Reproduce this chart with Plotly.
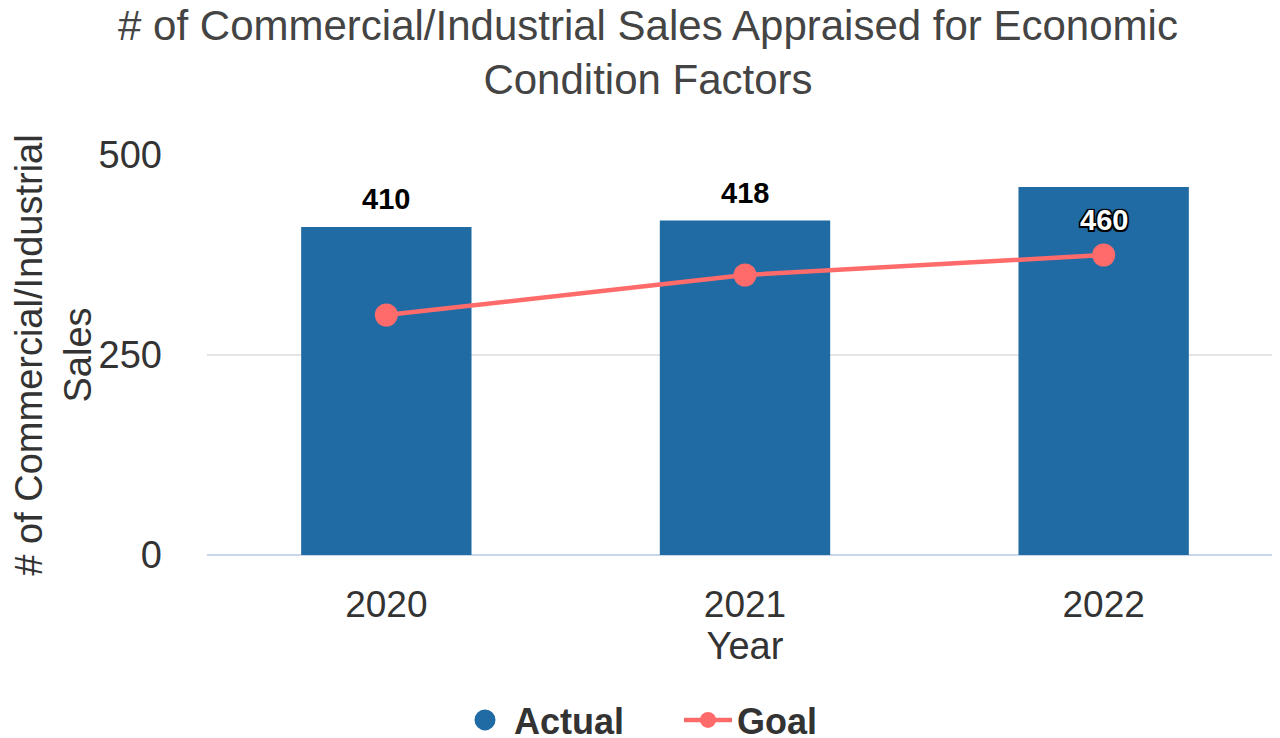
import plotly.graph_objects as go

years = ["2020", "2021", "2022"]
actual = [410, 418, 460]
goal = [300, 350, 375]
y_ticks = [0, 250, 500]

BAR = "#216BA4"
GOAL = "#FF6B6B"
FONT = "Liberation Sans, Arial, Helvetica, sans-serif"
Y_MAX = 500

fig = go.Figure()
fig.add_trace(go.Bar(
    x=years, y=actual, name="Actual", marker=dict(color=BAR, line=dict(width=0)),
    showlegend=False,
))
fig.add_trace(go.Scatter(
    x=years, y=goal, name="Goal", mode="lines+markers",
    line=dict(color=GOAL, width=4.5), marker=dict(size=23, color=GOAL),
    legendrank=2,
))
# legend entry for the bars, drawn as a circle
fig.add_trace(go.Scatter(
    x=[years[0]], y=[None], name="Actual", mode="markers",
    marker=dict(size=30, color=BAR, symbol="circle", line=dict(color=BAR, width=8)),
    legendrank=1, hoverinfo="skip",
))

shadow = ("-1.5px -1.5px 0 #000, 1.5px -1.5px 0 #000, -1.5px 1.5px 0 #000, "
          "1.5px 1.5px 0 #000, 0 0 3px #000")
for i, v in enumerate(actual):
    inside = (Y_MAX - v) < 50
    fig.add_annotation(
        x=i, y=v, xref="x", yref="y", text=str(v), showarrow=False,
        yanchor="middle", yshift=-33 if inside else 28,
        font=dict(family=FONT, size=29, weight="bold",
                  color="#ffffff" if inside else "#000000",
                  shadow=shadow if inside else "none"),
    )

fig.update_layout(
    width=1280, height=738,
    margin=dict(l=199, r=5, t=147, b=191),
    paper_bgcolor="white", plot_bgcolor="white",
    font=dict(family=FONT, color="#444444"),
    title=dict(
        text="# of Commercial/Industrial Sales Appraised for Economic<br>Condition Factors",
        x=0.5, xanchor="center", xref="container",
        y=0.957, yanchor="top",
        font=dict(family=FONT, size=42, color="#444444"),
    ),
    bargap=0.525,
    showlegend=True,
    legend=dict(
        orientation="h", xref="container", x=671 / 1280, xanchor="center",
        yref="container", y=1 - 712 / 738, yanchor="middle",
        font=dict(family=FONT, size=36, weight="bold", color="#333333"),
        itemwidth=48, entrywidth=160,
    ),
)
fig.update_xaxes(
    type="category", range=[-0.5, len(years) - 0.5], automargin=False,
    title=dict(text="Year", font=dict(family=FONT, size=38, color="#333333"), standoff=6),
    tickfont=dict(family=FONT, size=37, color="#333333"),
    showgrid=False, showline=False, ticks="", ticklabelstandoff=24,
)
fig.update_yaxes(
    automargin=False,
    title=dict(text="# of Commercial/Industrial<br>Sales", standoff=0,
               font=dict(family=FONT, size=38, color="#333333")),
    tickfont=dict(family=FONT, size=38, color="#333333"),
    range=[0, Y_MAX], tickvals=y_ticks, ticktext=[str(t) for t in y_ticks],
    showgrid=True, gridcolor="#E5E5E5", gridwidth=2,
    zeroline=True, zerolinecolor="#C9D5EA", zerolinewidth=2,
    showline=False, ticks="", ticklabelstandoff=44,
)

fig.write_html("out.html", config={"displayModeBar": False})
